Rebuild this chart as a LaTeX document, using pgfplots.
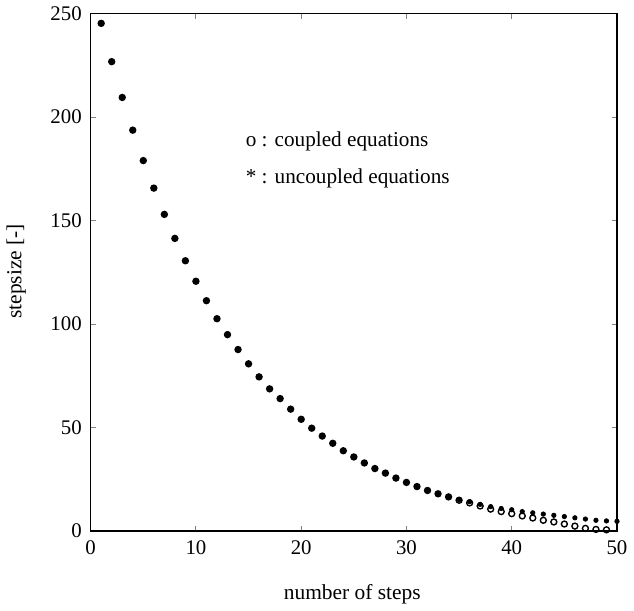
\documentclass[border=0pt]{standalone}
\usepackage{fontspec}
\setmainfont{Liberation Serif}
\usepackage{pgfplots}
\pgfplotsset{compat=1.18}

\begin{document}
\begin{tikzpicture}
\begin{axis}[
    scale only axis,
    width=265.5pt, height=261pt,
    xmin=0, xmax=50, ymin=0, ymax=250,
    xtick={0,10,...,50}, ytick={0,50,...,250},
    tick align=inside, major tick length=2.5pt,
    axis line style={line width=0.6pt}, tick style={line width=0.5pt},
    /pgf/number format/assume math mode=true,
    tick label style={font=\fontsize{10.5}{12}\selectfont},
    xticklabel style={yshift=-1.5pt},
    yticklabel style={xshift=-1pt},
    xlabel={number of steps}, ylabel={stepsize [-]},
    label style={font=\fontsize{10.8}{12}\selectfont},
    xlabel style={at={(axis description cs:0.497,0)}, anchor=center, yshift=-32pt},
    ylabel style={at={(axis description cs:0,0.502)}, anchor=center, yshift=37.5pt},
]
% uncoupled equations
\addplot[only marks, mark=*, mark size=1.1pt, black] coordinates {
    (1,245.3)(2,226.8)(3,209.5)(4,193.7)(5,179.0)(6,165.7)(7,153.0)(8,141.4)(9,130.6)(10,120.7)
    (11,111.3)(12,102.6)(13,94.9)(14,87.7)(15,80.8)(16,74.5)(17,68.7)(18,64.0)(19,58.9)(20,54.0)
    (21,49.7)(22,45.9)(23,42.4)(24,38.8)(25,35.8)(26,32.9)(27,30.2)(28,28.0)(29,25.6)(30,23.5)
    (31,21.5)(32,19.6)(33,18.0)(34,16.5)(35,15.2)(36,14.2)(37,12.9)(38,11.8)(39,10.9)(40,10.3)
    (41,9.4)(42,8.8)(43,8.2)(44,7.6)(45,7.0)(46,6.4)(47,5.8)(48,5.2)(49,4.9)(50,4.7)
};
% coupled equations
\addplot[only marks, mark=o, mark size=1.5pt, black, mark options={line width=0.7pt}] coordinates {
    (1,245.3)(2,226.8)(3,209.5)(4,193.7)(5,179.0)(6,165.7)(7,153.0)(8,141.4)(9,130.6)(10,120.7)
    (11,111.3)(12,102.6)(13,94.9)(14,87.7)(15,80.8)(16,74.5)(17,68.7)(18,64.0)(19,58.9)(20,54.0)
    (21,49.7)(22,45.9)(23,42.4)(24,38.8)(25,35.8)(26,32.9)(27,30.2)(28,28.0)(29,25.6)(30,23.5)
    (31,21.5)(32,19.6)(33,18.0)(34,16.5)(35,14.9)(36,13.6)(37,12.1)(38,10.6)(39,9.4)(40,8.4)
    (41,7.3)(42,6.3)(43,5.2)(44,4.4)(45,3.4)(46,2.4)(47,1.3)(48,0.8)(49,0.6)
};
\node[anchor=west, font=\fontsize{10.7}{12}\selectfont, inner sep=0pt] at (axis cs:14.7,188.2) {o : coupled equations};
\node[anchor=west, font=\fontsize{10.7}{12}\selectfont, inner sep=0pt] at (axis cs:14.7,170.5) {* : uncoupled equations};
\end{axis}
\end{tikzpicture}
\end{document}
